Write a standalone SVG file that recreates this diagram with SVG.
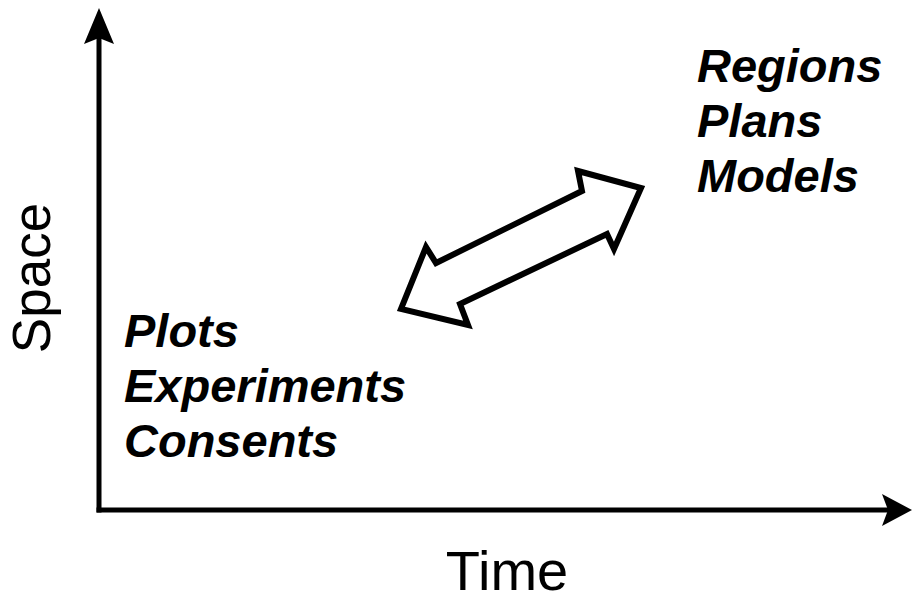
<svg xmlns="http://www.w3.org/2000/svg" width="913" height="601" viewBox="0 0 913 601">
<style>
.axis{stroke:#000;stroke-width:5;fill:none}
.head{fill:#000;stroke:none}
.lbl{font-family:"Liberation Sans",Arial,sans-serif;font-weight:bold;font-style:italic;font-size:47px;fill:#000}
.ax{font-family:"Liberation Sans",Arial,sans-serif;fill:#000}
.dbl{fill:#fff;stroke:#000;stroke-width:6;stroke-linejoin:miter}
</style>
<rect width="913" height="601" fill="#fff"/>
<g id="connectors">
<line class="axis" x1="99" y1="512.5" x2="99" y2="38"/>
<polygon class="head" points="99,8 114,44 99,38 84,44"/>
<line class="axis" x1="96.5" y1="510" x2="890" y2="510"/>
<polygon class="head" points="912,510 882,526 888,510 882,494"/>
<polygon id="double-arrow" class="dbl" points="578,171 641,188 614,249 607,234 460,304 468,325 401,309 426,247 436,263 582,191"/>
</g>
<g id="space-label"><text class="ax" font-size="53" transform="translate(50,278) rotate(-90)" text-anchor="middle">Space</text></g>
<g id="time-label"><text class="ax" font-size="56" x="507" y="590" text-anchor="middle">Time</text></g>
<g id="large-scale">
<text class="lbl" x="697" y="82">Regions</text>
<text class="lbl" x="697" y="137">Plans</text>
<text class="lbl" x="697" y="192">Models</text>
</g>
<g id="small-scale">
<text class="lbl" x="124" y="347">Plots</text>
<text class="lbl" x="124" y="402">Experiments</text>
<text class="lbl" x="124" y="457">Consents</text>
</g>
</svg>
